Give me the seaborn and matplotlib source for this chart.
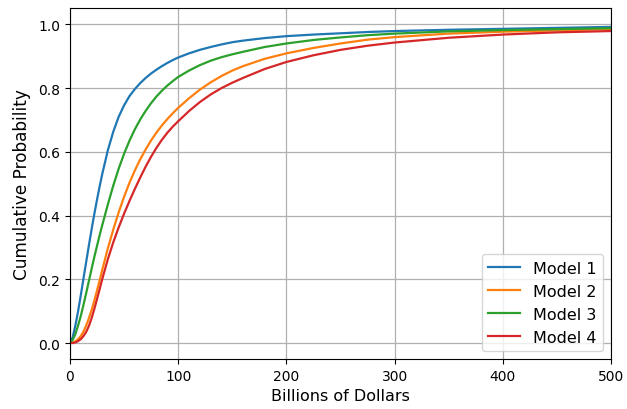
import numpy as np
import pandas as pd
import matplotlib
matplotlib.use("Agg")
import matplotlib.pyplot as plt
import seaborn as sns

# Data
x_vals = [0, 2.5, 5, 7.5, 10, 12.5, 15, 17.5, 20, 22.5, 25, 27.5, 30,
          35, 40, 45, 50, 55, 60, 65, 70, 75, 80, 85, 90, 95, 100,
          110, 120, 130, 140, 150, 160,
          180, 200, 225, 250, 275, 300, 350, 400, 450, 500]
model1 = [0.0, 0.018, 0.055, 0.10, 0.15, 0.203, 0.255, 0.307, 0.357, 0.405, 0.45, 0.493, 0.533,
          0.605, 0.663, 0.71, 0.746, 0.775, 0.797, 0.816, 0.832, 0.846, 0.858, 0.869, 0.879, 0.888, 0.896,
          0.909, 0.92, 0.929, 0.937, 0.944, 0.949,
          0.957, 0.963, 0.968, 0.972, 0.976, 0.979, 0.983, 0.986, 0.989, 0.992]
model2 = [0.0, 0.001, 0.005, 0.012, 0.022, 0.036, 0.055, 0.078, 0.104, 0.133, 0.165, 0.198, 0.232,
          0.297, 0.356, 0.41, 0.459, 0.503, 0.542, 0.577, 0.608, 0.636, 0.661, 0.683, 0.703, 0.721, 0.738,
          0.768, 0.795, 0.818, 0.838, 0.855, 0.869,
          0.892, 0.909, 0.926, 0.94, 0.952, 0.96, 0.971, 0.977, 0.981, 0.985]
model3 = [0.0, 0.01, 0.028, 0.055, 0.085, 0.12, 0.157, 0.195, 0.233, 0.27, 0.305, 0.34, 0.372,
          0.435, 0.494, 0.547, 0.594, 0.635, 0.671, 0.702, 0.729, 0.753, 0.774, 0.792, 0.808, 0.822, 0.835,
          0.855, 0.872, 0.886, 0.897, 0.906, 0.914,
          0.929, 0.94, 0.951, 0.959, 0.966, 0.971, 0.978, 0.982, 0.985, 0.988]
model4 = [0.0, 0.0, 0.002, 0.006, 0.012, 0.022, 0.035, 0.054, 0.078, 0.107, 0.138, 0.17, 0.203,
          0.263, 0.316, 0.363, 0.406, 0.446, 0.484, 0.52, 0.554, 0.585, 0.613, 0.638, 0.66, 0.679, 0.696,
          0.728, 0.756, 0.78, 0.80, 0.817, 0.832,
          0.86, 0.882, 0.903, 0.92, 0.933, 0.943, 0.958, 0.968, 0.975, 0.979]
series_names = ["Model 1", "Model 2", "Model 3", "Model 4"]
colors = ["#1f77b4", "#ff7f0e", "#2ca02c", "#d62728"]
x_ticks = [0, 100, 200, 300, 400, 500]
y_ticks = [0.0, 0.2, 0.4, 0.6, 0.8, 1.0]
y_tick_labels = ["0.0", "0.2", "0.4", "0.6", "0.8", "1.0"]

frames = []
for name, vals in zip(series_names, [model1, model2, model3, model4]):
    frames.append(pd.DataFrame({"x": x_vals, "y": vals, "model": name}))
df = pd.concat(frames, ignore_index=True)

plt.rcParams["font.family"] = ["DejaVu Sans"]
fig = plt.figure(figsize=(6.27, 4.10), dpi=100)
ax = fig.add_axes([0.1116, 0.122, 0.863, 0.855])

sns.lineplot(data=df, x="x", y="y", hue="model", hue_order=series_names,
             palette=dict(zip(series_names, colors)), linewidth=1.6,
             estimator=None, sort=False, ax=ax)

ax.set_xlim(0, 500)
ax.set_ylim(-0.05, 1.05)
ax.set_xticks(x_ticks)
ax.set_yticks(y_ticks)
ax.set_yticklabels(y_tick_labels)
ax.grid(True, color="#b0b0b0", linewidth=0.9)
ax.set_axisbelow(True)
ax.set_xlabel("Billions of Dollars", fontsize=11.5)
ax.set_ylabel("Cumulative Probability", fontsize=12.2, labelpad=5)
ax.tick_params(labelsize=10)
for s in ax.spines.values():
    s.set_color("black")

leg = ax.legend(loc="lower right", fontsize=11.5, title=None)

fig.savefig("out.png", dpi=100)
